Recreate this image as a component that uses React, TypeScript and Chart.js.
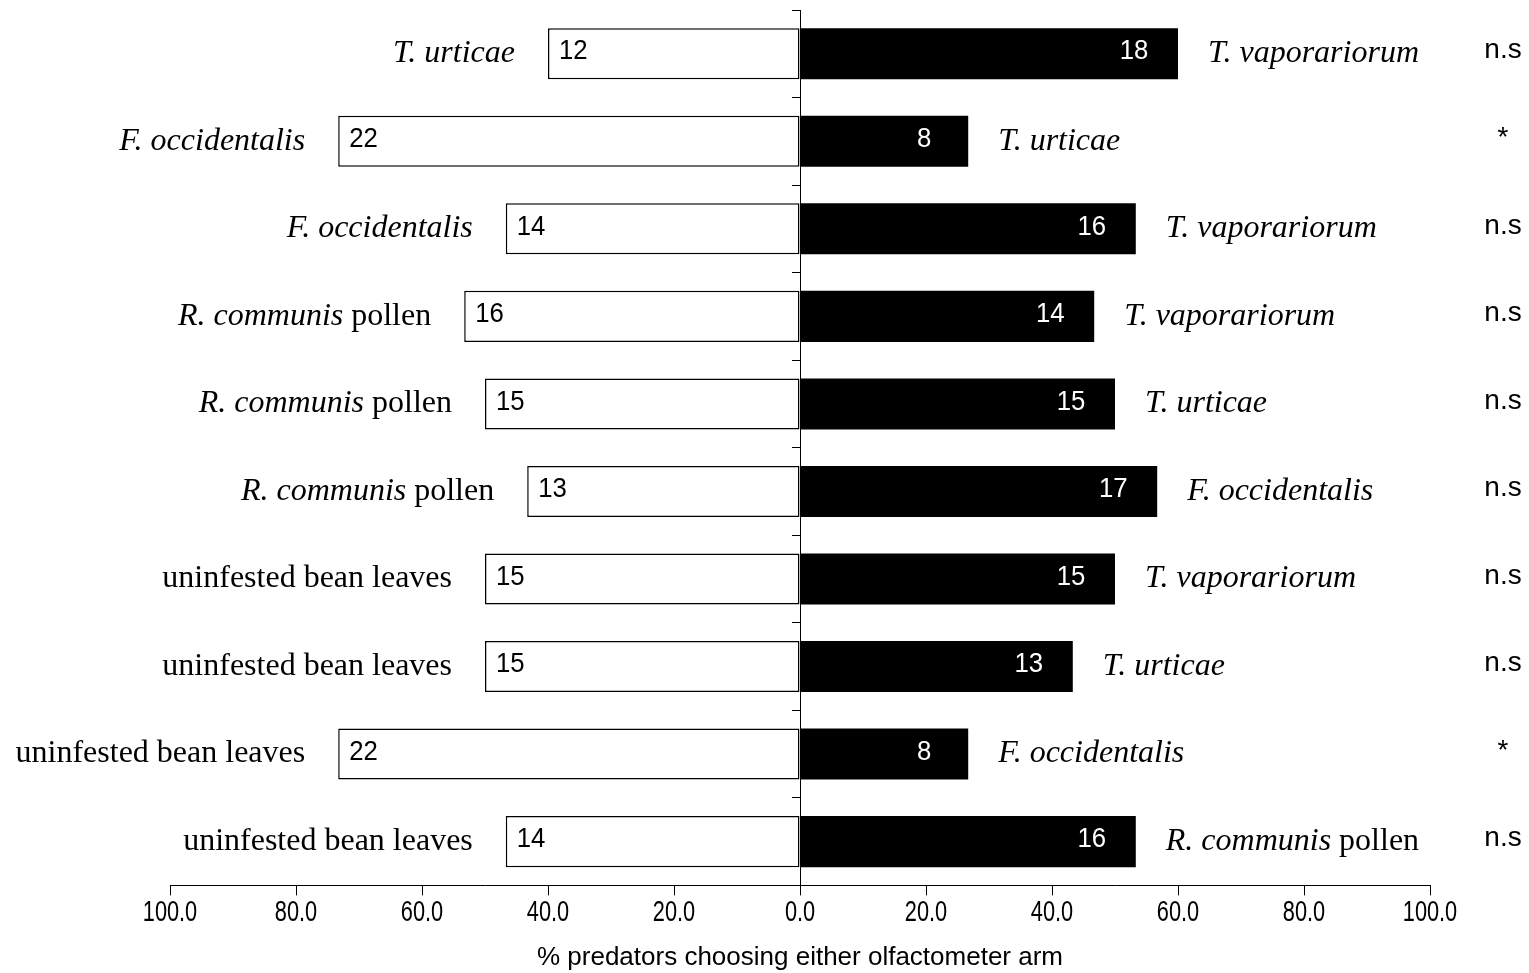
import React, { useEffect, useRef } from 'react';
import { Chart, registerables } from 'chart.js';

Chart.register(...registerables);

const categories = ['1', '2', '3', '4', '5', '6', '7', '8', '9', '10'];
const leftPct = [40.0, 73.3, 46.7, 53.3, 50.0, 43.3, 50.0, 50.0, 73.3, 46.7];
const rightPct = [60.0, 26.7, 53.3, 46.7, 50.0, 56.7, 50.0, 43.3, 26.7, 53.3];
const leftCounts = [12, 22, 14, 16, 15, 13, 15, 15, 22, 14];
const rightCounts = [18, 8, 16, 14, 15, 17, 15, 13, 8, 16];
const leftLabels = [
  '*T. urticae*',
  '*F. occidentalis*',
  '*F. occidentalis*',
  '*R. communis* pollen',
  '*R. communis* pollen',
  '*R. communis* pollen',
  'uninfested bean leaves',
  'uninfested bean leaves',
  'uninfested bean leaves',
  'uninfested bean leaves',
];
const rightLabels = [
  '*T. vaporariorum*',
  '*T. urticae*',
  '*T. vaporariorum*',
  '*T. vaporariorum*',
  '*T. urticae*',
  '*F. occidentalis*',
  '*T. vaporariorum*',
  '*T. urticae*',
  '*F. occidentalis*',
  '*R. communis* pollen',
];
const significance = ['n.s', '*', 'n.s', 'n.s', 'n.s', 'n.s', 'n.s', 'n.s', '*', 'n.s'];
const axisTitle = '% predators choosing either olfactometer arm';

const SANS = "'Liberation Sans', Arial, sans-serif";
const SERIF = "'Liberation Serif', 'Times New Roman', serif";
const LABEL_SIZE = 32;
const TICK_SIZE = 29;
const TICK_CONDENSE = 0.75;
const COUNT_SIZE = 28;
const COUNT_CONDENSE = 0.92;

function drawRich(ctx: CanvasRenderingContext2D, text: string, x: number, y: number, align: 'left' | 'right') {
  const parts = text.split('*');
  const segs = parts
    .map((t, k) => ({ t, italic: k % 2 === 1 }))
    .filter((s) => s.t.length > 0);
  const fontFor = (it: boolean) => `${it ? 'italic ' : ''}${LABEL_SIZE}px ${SERIF}`;
  let total = 0;
  const widths = segs.map((s) => {
    ctx.font = fontFor(s.italic);
    const w = ctx.measureText(s.t).width;
    total += w;
    return w;
  });
  let cx = align === 'right' ? x - total : x;
  ctx.textAlign = 'left';
  ctx.textBaseline = 'middle';
  ctx.fillStyle = '#000';
  segs.forEach((s, k) => {
    ctx.font = fontFor(s.italic);
    ctx.fillText(s.t, cx, y);
    cx += widths[k];
  });
}

function drawCondensed(ctx: CanvasRenderingContext2D, text: string, x: number, y: number, k: number, align: CanvasTextAlign) {
  ctx.save();
  ctx.translate(x, y);
  ctx.scale(k, 1);
  ctx.textAlign = align;
  ctx.textBaseline = 'middle';
  ctx.fillText(text, 0, 0);
  ctx.restore();
}

const annotate = {
  id: 'annotate',
  afterDatasetsDraw(chart: any) {
    const { ctx } = chart;
    const x = chart.scales.x;
    const y = chart.scales.y;
    ctx.save();
    categories.forEach((_, i) => {
      const yc = y.getPixelForValue(i);
      const lx = x.getPixelForValue(-leftPct[i]);
      const rx = x.getPixelForValue(rightPct[i]);
      ctx.font = `${COUNT_SIZE}px ${SANS}`;
      ctx.fillStyle = '#000';
      drawCondensed(ctx, String(leftCounts[i]), lx + 11, yc - 2, COUNT_CONDENSE, 'left');
      ctx.fillStyle = '#fff';
      drawCondensed(ctx, String(rightCounts[i]), rx - 44, yc - 2, COUNT_CONDENSE, 'center');
      drawRich(ctx, leftLabels[i], lx - 33, yc, 'right');
      drawRich(ctx, rightLabels[i], rx + 30, yc, 'left');
      ctx.font = `28px ${SANS}`;
      ctx.textAlign = 'center';
      ctx.textBaseline = 'middle';
      ctx.fillStyle = '#000';
      ctx.fillText(significance[i], chart.width - 26, yc - 3);
    });
    // condensed x tick labels
    ctx.font = `${TICK_SIZE}px ${SANS}`;
    ctx.fillStyle = '#000';
    x.ticks.forEach((t: any) => {
      const px = x.getPixelForValue(t.value);
      drawCondensed(ctx, Math.abs(Number(t.value)).toFixed(1), px, chart.chartArea.bottom + 28, TICK_CONDENSE, 'center');
    });
    ctx.restore();
  },
};

export default function App() {
  const ref = useRef<HTMLCanvasElement | null>(null);
  useEffect(() => {
    if (!ref.current) return;
    const chart = new Chart(ref.current, {
      type: 'bar',
      data: {
        labels: categories,
        datasets: [
          {
            label: 'left arm',
            data: leftPct.map((v) => -v),
            backgroundColor: '#ffffff',
            borderColor: '#000000',
            borderWidth: 1.5,
            borderSkipped: false,
          },
          {
            label: 'right arm',
            data: rightPct,
            backgroundColor: '#000000',
            borderColor: '#000000',
            borderWidth: 0,
          },
        ],
      },
      options: {
        indexAxis: 'y',
        responsive: false,
        animation: false,
        devicePixelRatio: 1,
        layout: { padding: { left: 170, right: 99, top: 10, bottom: 0 } },
        datasets: { bar: { barPercentage: 0.583, categoryPercentage: 1 } },
        plugins: {
          legend: { display: false },
          tooltip: { enabled: false },
        },
        scales: {
          x: {
            type: 'linear',
            position: 'bottom',
            min: -100,
            max: 100,
            stacked: true,
            ticks: {
              stepSize: 20,
              color: 'rgba(0,0,0,0)',
              padding: 4,
              font: { family: SANS, size: 27 },
              callback: (v: any) => Math.abs(Number(v)).toFixed(1),
            },
            grid: { display: true, drawOnChartArea: false, drawTicks: true, tickLength: 10, color: '#000', lineWidth: 1 },
            border: { display: true, color: '#000', width: 1 },
            title: {
              display: true,
              text: axisTitle,
              color: '#000',
              font: { family: SANS, size: 26 },
              padding: { top: 6, bottom: 0 },
            },
          },
          y: {
            type: 'category',
            position: { x: 0 } as any,
            stacked: true,
            offset: true,
            ticks: { display: false },
            grid: { display: true, offset: true, drawOnChartArea: false, drawTicks: true, tickLength: 8, color: '#000', lineWidth: 1 },
            border: { display: true, color: '#000', width: 1 },
          },
        },
      } as any,
      plugins: [annotate],
    });
    return () => chart.destroy();
  }, []);
  return (
    <div style={{ position: 'fixed', left: 0, top: 0, width: 1529, height: 973, background: '#fff' }}>
      <canvas ref={ref} width={1529} height={973} style={{ width: 1529, height: 973, display: 'block' }} />
    </div>
  );
}
